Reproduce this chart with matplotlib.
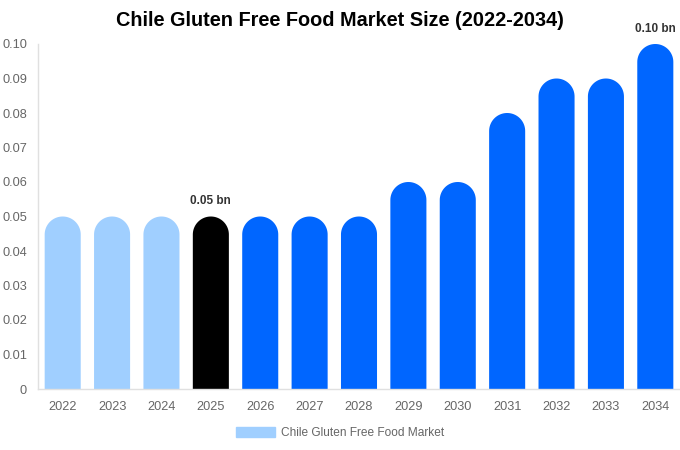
import numpy as np
import matplotlib
matplotlib.use('Agg')
import matplotlib.pyplot as plt
from matplotlib.patches import Patch

plt.rcParams['font.family'] = ['Liberation Sans', 'DejaVu Sans']

# data
years = ['2022', '2023', '2024', '2025', '2026', '2027', '2028',
         '2029', '2030', '2031', '2032', '2033', '2034']
values = [0.05, 0.05, 0.05, 0.05, 0.05, 0.05, 0.05,
          0.06, 0.06, 0.08, 0.09, 0.09, 0.10]
colors = ['#a0cfff'] * 3 + ['#000000'] + ['#0066ff'] * 9
labels = {3: '0.05 bn', 12: '0.10 bn'}
yticks = [0, 0.01, 0.02, 0.03, 0.04, 0.05, 0.06, 0.07, 0.08, 0.09, 0.10]
ytick_labels = ['0', '0.01', '0.02', '0.03', '0.04', '0.05', '0.06',
                '0.07', '0.08', '0.09', '0.10']

fig = plt.figure(figsize=(6.8, 4.5), dpi=100)
ax = fig.add_axes([38 / 680, 1 - 389 / 450, 642 / 680, 345 / 450])
ax.set_xlim(-0.5, len(years) - 0.5)
ax.set_ylim(0, 0.10)

width = 0.73
# rounded caps: radius = half bar width in pixels
px_per_x = 642 / len(years)
px_per_y = 345 / 0.10
r_px = width * px_per_x / 2
ry = r_px / px_per_y
theta = np.linspace(np.pi, 0, 40)

x = np.arange(len(years))
for i, (v, c) in enumerate(zip(values, colors)):
    # bar outline: straight sides plus a half-circle top
    xs = np.concatenate([[x[i] - width / 2], x[i] + width / 2 * np.cos(theta), [x[i] + width / 2]])
    ys = np.concatenate([[0], v - ry + ry * np.sin(theta), [0]])
    ax.fill(xs, ys, color=c, linewidth=0)
    if i in labels:
        ax.text(x[i], v + 0.0027, labels[i], ha='center', va='bottom',
                fontsize=8.5, fontweight='bold', color='#333333')

ax.set_xticks(x)
ax.set_xticklabels(years)
ax.set_yticks(yticks)
ax.set_yticklabels(ytick_labels)
ax.tick_params(axis='both', length=0, labelsize=9.2, colors='#666666')
ax.tick_params(axis='x', pad=9)
ax.tick_params(axis='y', pad=8)

for s in ['top', 'right']:
    ax.spines[s].set_visible(False)
for s in ['left', 'bottom']:
    ax.spines[s].set_color('#e0e0e0')
    ax.spines[s].set_linewidth(1)

fig.suptitle('Chile Gluten Free Food Market Size (2022-2034)', x=0.5, y=0.975,
             fontsize=14.3, fontweight='bold', color='#000000')

fig.legend(handles=[Patch(color='#a0cfff', label='Chile Gluten Free Food Market')],
           loc='center', bbox_to_anchor=(0.5, 1 - 433 / 450), frameon=False,
           fontsize=8.6, labelcolor='#666666', handlelength=3.3, handleheight=0.9,
           handletextpad=0.5)

fig.savefig('out.png', dpi=100)
